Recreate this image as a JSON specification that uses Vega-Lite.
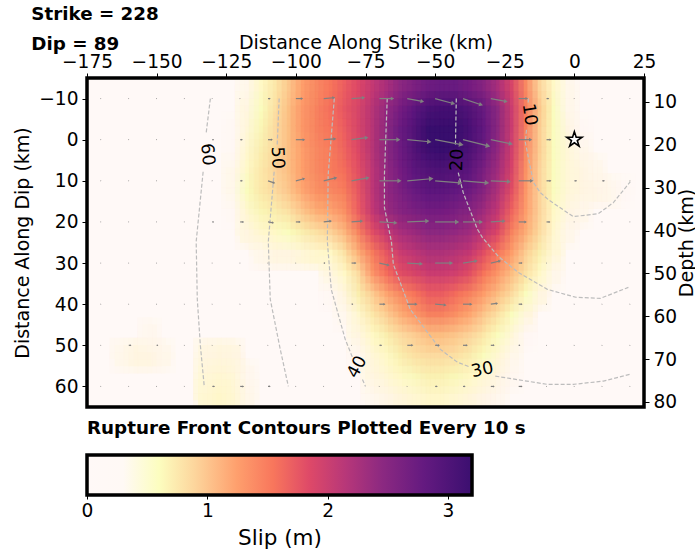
{"$schema":"https://vega.github.io/schema/vega-lite/v6.json","padding":{"left":13,"top":5,"right":0,"bottom":0},"spacing":15,"background":"white","config":{"font":"DejaVu Sans","view":{"stroke":null},"axis":{"grid":false,"domain":false,"tickColor":"#000","tickSize":5,"tickWidth":1,"labelColor":"#000","titleColor":"#000","labelFontSize":18.6,"titleFontSize":19,"titleFontWeight":"normal","labelOverlap":false,"labelFlush":false}},"datasets":{"cells":[
{"x":-117.5,"d":-12.5,"s":0.35},{"x":-112.5,"d":-12.5,"s":0.55},{"x":-107.5,"d":-12.5,"s":0.75},{"x":-102.5,"d":-12.5,"s":1.0},{"x":-97.5,"d":-12.5,"s":1.25},{"x":-92.5,"d":-12.5,"s":1.4},{"x":-87.5,"d":-12.5,"s":1.55},{"x":-82.5,"d":-12.5,"s":1.7},{"x":-77.5,"d":-12.5,"s":1.85},{"x":-72.5,"d":-12.5,"s":2.05},{"x":-67.5,"d":-12.5,"s":2.25},{"x":-62.5,"d":-12.5,"s":2.45},{"x":-57.5,"d":-12.5,"s":2.6},{"x":-52.5,"d":-12.5,"s":2.7},{"x":-47.5,"d":-12.5,"s":2.75},{"x":-42.5,"d":-12.5,"s":2.75},{"x":-37.5,"d":-12.5,"s":2.65},{"x":-32.5,"d":-12.5,"s":2.5},{"x":-27.5,"d":-12.5,"s":2.25},{"x":-22.5,"d":-12.5,"s":1.9},{"x":-17.5,"d":-12.5,"s":1.4},{"x":-12.5,"d":-12.5,"s":0.9},{"x":-7.5,"d":-12.5,"s":0.55},{"x":-2.5,"d":-12.5,"s":0.35},
{"x":-117.5,"d":-7.5,"s":0.4},{"x":-112.5,"d":-7.5,"s":0.6},{"x":-107.5,"d":-7.5,"s":0.8},{"x":-102.5,"d":-7.5,"s":1.05},{"x":-97.5,"d":-7.5,"s":1.3},{"x":-92.5,"d":-7.5,"s":1.45},{"x":-87.5,"d":-7.5,"s":1.6},{"x":-82.5,"d":-7.5,"s":1.75},{"x":-77.5,"d":-7.5,"s":1.9},{"x":-72.5,"d":-7.5,"s":2.15},{"x":-67.5,"d":-7.5,"s":2.4},{"x":-62.5,"d":-7.5,"s":2.65},{"x":-57.5,"d":-7.5,"s":2.85},{"x":-52.5,"d":-7.5,"s":3.05},{"x":-47.5,"d":-7.5,"s":3.1},{"x":-42.5,"d":-7.5,"s":3.1},{"x":-37.5,"d":-7.5,"s":2.95},{"x":-32.5,"d":-7.5,"s":2.75},{"x":-27.5,"d":-7.5,"s":2.45},{"x":-22.5,"d":-7.5,"s":2.0},{"x":-17.5,"d":-7.5,"s":1.5},{"x":-12.5,"d":-7.5,"s":1.0},{"x":-7.5,"d":-7.5,"s":0.6},{"x":-2.5,"d":-7.5,"s":0.35},
{"x":-122.5,"d":-2.5,"s":0.3},{"x":-117.5,"d":-2.5,"s":0.45},{"x":-112.5,"d":-2.5,"s":0.65},{"x":-107.5,"d":-2.5,"s":0.85},{"x":-102.5,"d":-2.5,"s":1.05},{"x":-97.5,"d":-2.5,"s":1.3},{"x":-92.5,"d":-2.5,"s":1.45},{"x":-87.5,"d":-2.5,"s":1.55},{"x":-82.5,"d":-2.5,"s":1.7},{"x":-77.5,"d":-2.5,"s":1.9},{"x":-72.5,"d":-2.5,"s":2.15},{"x":-67.5,"d":-2.5,"s":2.45},{"x":-62.5,"d":-2.5,"s":2.75},{"x":-57.5,"d":-2.5,"s":2.95},{"x":-52.5,"d":-2.5,"s":3.2},{"x":-47.5,"d":-2.5,"s":3.2},{"x":-42.5,"d":-2.5,"s":3.2},{"x":-37.5,"d":-2.5,"s":3.05},{"x":-32.5,"d":-2.5,"s":2.8},{"x":-27.5,"d":-2.5,"s":2.45},{"x":-22.5,"d":-2.5,"s":2.0},{"x":-17.5,"d":-2.5,"s":1.45},{"x":-12.5,"d":-2.5,"s":0.95},{"x":-7.5,"d":-2.5,"s":0.6},{"x":-2.5,"d":-2.5,"s":0.4},{"x":2.5,"d":-2.5,"s":0.3},
{"x":-122.5,"d":2.5,"s":0.3},{"x":-117.5,"d":2.5,"s":0.5},{"x":-112.5,"d":2.5,"s":0.7},{"x":-107.5,"d":2.5,"s":0.85},{"x":-102.5,"d":2.5,"s":1.05},{"x":-97.5,"d":2.5,"s":1.25},{"x":-92.5,"d":2.5,"s":1.4},{"x":-87.5,"d":2.5,"s":1.5},{"x":-82.5,"d":2.5,"s":1.65},{"x":-77.5,"d":2.5,"s":1.85},{"x":-72.5,"d":2.5,"s":2.15},{"x":-67.5,"d":2.5,"s":2.45},{"x":-62.5,"d":2.5,"s":2.7},{"x":-57.5,"d":2.5,"s":2.95},{"x":-52.5,"d":2.5,"s":3.15},{"x":-47.5,"d":2.5,"s":3.2},{"x":-42.5,"d":2.5,"s":3.15},{"x":-37.5,"d":2.5,"s":3.0},{"x":-32.5,"d":2.5,"s":2.75},{"x":-27.5,"d":2.5,"s":2.4},{"x":-22.5,"d":2.5,"s":1.95},{"x":-17.5,"d":2.5,"s":1.4},{"x":-12.5,"d":2.5,"s":0.95},{"x":-7.5,"d":2.5,"s":0.6},{"x":-2.5,"d":2.5,"s":0.45},{"x":2.5,"d":2.5,"s":0.35},
{"x":-122.5,"d":7.5,"s":0.35},{"x":-117.5,"d":7.5,"s":0.55},{"x":-112.5,"d":7.5,"s":0.75},{"x":-107.5,"d":7.5,"s":0.9},{"x":-102.5,"d":7.5,"s":1.05},{"x":-97.5,"d":7.5,"s":1.25},{"x":-92.5,"d":7.5,"s":1.4},{"x":-87.5,"d":7.5,"s":1.5},{"x":-82.5,"d":7.5,"s":1.6},{"x":-77.5,"d":7.5,"s":1.8},{"x":-72.5,"d":7.5,"s":2.1},{"x":-67.5,"d":7.5,"s":2.4},{"x":-62.5,"d":7.5,"s":2.65},{"x":-57.5,"d":7.5,"s":2.85},{"x":-52.5,"d":7.5,"s":2.95},{"x":-47.5,"d":7.5,"s":3.0},{"x":-42.5,"d":7.5,"s":2.95},{"x":-37.5,"d":7.5,"s":2.85},{"x":-32.5,"d":7.5,"s":2.6},{"x":-27.5,"d":7.5,"s":2.3},{"x":-22.5,"d":7.5,"s":1.9},{"x":-17.5,"d":7.5,"s":1.35},{"x":-12.5,"d":7.5,"s":0.9},{"x":-7.5,"d":7.5,"s":0.6},{"x":-2.5,"d":7.5,"s":0.45},{"x":2.5,"d":7.5,"s":0.4},{"x":7.5,"d":7.5,"s":0.35},
{"x":-122.5,"d":12.5,"s":0.35},{"x":-117.5,"d":12.5,"s":0.6},{"x":-112.5,"d":12.5,"s":0.75},{"x":-107.5,"d":12.5,"s":0.85},{"x":-102.5,"d":12.5,"s":1.0},{"x":-97.5,"d":12.5,"s":1.2},{"x":-92.5,"d":12.5,"s":1.35},{"x":-87.5,"d":12.5,"s":1.4},{"x":-82.5,"d":12.5,"s":1.5},{"x":-77.5,"d":12.5,"s":1.75},{"x":-72.5,"d":12.5,"s":2.1},{"x":-67.5,"d":12.5,"s":2.4},{"x":-62.5,"d":12.5,"s":2.6},{"x":-57.5,"d":12.5,"s":2.75},{"x":-52.5,"d":12.5,"s":2.85},{"x":-47.5,"d":12.5,"s":2.85},{"x":-42.5,"d":12.5,"s":2.8},{"x":-37.5,"d":12.5,"s":2.7},{"x":-32.5,"d":12.5,"s":2.5},{"x":-27.5,"d":12.5,"s":2.2},{"x":-22.5,"d":12.5,"s":1.8},{"x":-17.5,"d":12.5,"s":1.3},{"x":-12.5,"d":12.5,"s":0.9},{"x":-7.5,"d":12.5,"s":0.6},{"x":-2.5,"d":12.5,"s":0.45},{"x":2.5,"d":12.5,"s":0.4},{"x":7.5,"d":12.5,"s":0.38},{"x":12.5,"d":12.5,"s":0.35},{"x":17.5,"d":12.5,"s":0.3},
{"x":-122.5,"d":17.5,"s":0.3},{"x":-117.5,"d":17.5,"s":0.5},{"x":-112.5,"d":17.5,"s":0.65},{"x":-107.5,"d":17.5,"s":0.7},{"x":-102.5,"d":17.5,"s":0.8},{"x":-97.5,"d":17.5,"s":1.0},{"x":-92.5,"d":17.5,"s":1.15},{"x":-87.5,"d":17.5,"s":1.2},{"x":-82.5,"d":17.5,"s":1.35},{"x":-77.5,"d":17.5,"s":1.7},{"x":-72.5,"d":17.5,"s":2.05},{"x":-67.5,"d":17.5,"s":2.35},{"x":-62.5,"d":17.5,"s":2.5},{"x":-57.5,"d":17.5,"s":2.6},{"x":-52.5,"d":17.5,"s":2.65},{"x":-47.5,"d":17.5,"s":2.65},{"x":-42.5,"d":17.5,"s":2.6},{"x":-37.5,"d":17.5,"s":2.5},{"x":-32.5,"d":17.5,"s":2.3},{"x":-27.5,"d":17.5,"s":2.05},{"x":-22.5,"d":17.5,"s":1.65},{"x":-17.5,"d":17.5,"s":1.25},{"x":-12.5,"d":17.5,"s":0.9},{"x":-7.5,"d":17.5,"s":0.55},{"x":-2.5,"d":17.5,"s":0.4},{"x":2.5,"d":17.5,"s":0.35},
{"x":-117.5,"d":22.5,"s":0.4},{"x":-112.5,"d":22.5,"s":0.5},{"x":-107.5,"d":22.5,"s":0.55},{"x":-102.5,"d":22.5,"s":0.6},{"x":-97.5,"d":22.5,"s":0.7},{"x":-92.5,"d":22.5,"s":0.8},{"x":-87.5,"d":22.5,"s":0.9},{"x":-82.5,"d":22.5,"s":1.1},{"x":-77.5,"d":22.5,"s":1.45},{"x":-72.5,"d":22.5,"s":1.8},{"x":-67.5,"d":22.5,"s":2.05},{"x":-62.5,"d":22.5,"s":2.25},{"x":-57.5,"d":22.5,"s":2.35},{"x":-52.5,"d":22.5,"s":2.45},{"x":-47.5,"d":22.5,"s":2.45},{"x":-42.5,"d":22.5,"s":2.4},{"x":-37.5,"d":22.5,"s":2.3},{"x":-32.5,"d":22.5,"s":2.1},{"x":-27.5,"d":22.5,"s":1.85},{"x":-22.5,"d":22.5,"s":1.45},{"x":-17.5,"d":22.5,"s":1.15},{"x":-12.5,"d":22.5,"s":0.85},{"x":-7.5,"d":22.5,"s":0.5},{"x":-2.5,"d":22.5,"s":0.35},
{"x":-112.5,"d":27.5,"s":0.35},{"x":-107.5,"d":27.5,"s":0.4},{"x":-102.5,"d":27.5,"s":0.4},{"x":-97.5,"d":27.5,"s":0.45},{"x":-92.5,"d":27.5,"s":0.5},{"x":-87.5,"d":27.5,"s":0.55},{"x":-82.5,"d":27.5,"s":0.8},{"x":-77.5,"d":27.5,"s":1.15},{"x":-72.5,"d":27.5,"s":1.5},{"x":-67.5,"d":27.5,"s":1.75},{"x":-62.5,"d":27.5,"s":2.0},{"x":-57.5,"d":27.5,"s":2.1},{"x":-52.5,"d":27.5,"s":2.2},{"x":-47.5,"d":27.5,"s":2.2},{"x":-42.5,"d":27.5,"s":2.15},{"x":-37.5,"d":27.5,"s":2.05},{"x":-32.5,"d":27.5,"s":1.8},{"x":-27.5,"d":27.5,"s":1.55},{"x":-22.5,"d":27.5,"s":1.25},{"x":-17.5,"d":27.5,"s":0.95},{"x":-12.5,"d":27.5,"s":0.7},{"x":-7.5,"d":27.5,"s":0.45},
{"x":-87.5,"d":32.5,"s":0.4},{"x":-82.5,"d":32.5,"s":0.55},{"x":-77.5,"d":32.5,"s":0.85},{"x":-72.5,"d":32.5,"s":1.3},{"x":-67.5,"d":32.5,"s":1.6},{"x":-62.5,"d":32.5,"s":1.8},{"x":-57.5,"d":32.5,"s":1.9},{"x":-52.5,"d":32.5,"s":2.0},{"x":-47.5,"d":32.5,"s":2.0},{"x":-42.5,"d":32.5,"s":1.95},{"x":-37.5,"d":32.5,"s":1.8},{"x":-32.5,"d":32.5,"s":1.55},{"x":-27.5,"d":32.5,"s":1.3},{"x":-22.5,"d":32.5,"s":1.05},{"x":-17.5,"d":32.5,"s":0.8},{"x":-12.5,"d":32.5,"s":0.55},{"x":-7.5,"d":32.5,"s":0.35},
{"x":-87.5,"d":37.5,"s":0.3},{"x":-82.5,"d":37.5,"s":0.42},{"x":-77.5,"d":37.5,"s":0.7},{"x":-72.5,"d":37.5,"s":0.95},{"x":-67.5,"d":37.5,"s":1.2},{"x":-62.5,"d":37.5,"s":1.4},{"x":-57.5,"d":37.5,"s":1.55},{"x":-52.5,"d":37.5,"s":1.7},{"x":-47.5,"d":37.5,"s":1.7},{"x":-42.5,"d":37.5,"s":1.6},{"x":-37.5,"d":37.5,"s":1.45},{"x":-32.5,"d":37.5,"s":1.25},{"x":-27.5,"d":37.5,"s":1.05},{"x":-22.5,"d":37.5,"s":0.85},{"x":-17.5,"d":37.5,"s":0.6},{"x":-12.5,"d":37.5,"s":0.4},
{"x":-82.5,"d":42.5,"s":0.33},{"x":-77.5,"d":42.5,"s":0.5},{"x":-72.5,"d":42.5,"s":0.75},{"x":-67.5,"d":42.5,"s":0.95},{"x":-62.5,"d":42.5,"s":1.15},{"x":-57.5,"d":42.5,"s":1.3},{"x":-52.5,"d":42.5,"s":1.45},{"x":-47.5,"d":42.5,"s":1.45},{"x":-42.5,"d":42.5,"s":1.35},{"x":-37.5,"d":42.5,"s":1.2},{"x":-32.5,"d":42.5,"s":1.0},{"x":-27.5,"d":42.5,"s":0.8},{"x":-22.5,"d":42.5,"s":0.6},{"x":-17.5,"d":42.5,"s":0.42},
{"x":-77.5,"d":47.5,"s":0.4},{"x":-72.5,"d":47.5,"s":0.55},{"x":-67.5,"d":47.5,"s":0.7},{"x":-62.5,"d":47.5,"s":0.85},{"x":-57.5,"d":47.5,"s":0.95},{"x":-52.5,"d":47.5,"s":1.05},{"x":-47.5,"d":47.5,"s":1.05},{"x":-42.5,"d":47.5,"s":1.0},{"x":-37.5,"d":47.5,"s":0.9},{"x":-32.5,"d":47.5,"s":0.75},{"x":-27.5,"d":47.5,"s":0.6},{"x":-22.5,"d":47.5,"s":0.45},{"x":-17.5,"d":47.5,"s":0.3},{"x":-152.5,"d":47.5,"s":0.33},
{"x":-77.5,"d":52.5,"s":0.32},{"x":-72.5,"d":52.5,"s":0.45},{"x":-67.5,"d":52.5,"s":0.55},{"x":-62.5,"d":52.5,"s":0.7},{"x":-57.5,"d":52.5,"s":0.8},{"x":-52.5,"d":52.5,"s":0.85},{"x":-47.5,"d":52.5,"s":0.85},{"x":-42.5,"d":52.5,"s":0.8},{"x":-37.5,"d":52.5,"s":0.72},{"x":-32.5,"d":52.5,"s":0.6},{"x":-27.5,"d":52.5,"s":0.48},{"x":-22.5,"d":52.5,"s":0.35},{"x":-162.5,"d":52.5,"s":0.35},{"x":-157.5,"d":52.5,"s":0.4},{"x":-152.5,"d":52.5,"s":0.4},{"x":-147.5,"d":52.5,"s":0.35},{"x":-132.5,"d":52.5,"s":0.4},{"x":-127.5,"d":52.5,"s":0.42},{"x":-122.5,"d":52.5,"s":0.4},
{"x":-72.5,"d":57.5,"s":0.4},{"x":-67.5,"d":57.5,"s":0.47},{"x":-62.5,"d":57.5,"s":0.55},{"x":-57.5,"d":57.5,"s":0.62},{"x":-52.5,"d":57.5,"s":0.68},{"x":-47.5,"d":57.5,"s":0.68},{"x":-42.5,"d":57.5,"s":0.63},{"x":-37.5,"d":57.5,"s":0.57},{"x":-32.5,"d":57.5,"s":0.48},{"x":-27.5,"d":57.5,"s":0.4},{"x":-22.5,"d":57.5,"s":0.32},{"x":-132.5,"d":57.5,"s":0.45},{"x":-127.5,"d":57.5,"s":0.48},{"x":-122.5,"d":57.5,"s":0.45},{"x":-117.5,"d":57.5,"s":0.33},
{"x":-72.5,"d":62.5,"s":0.33},{"x":-67.5,"d":62.5,"s":0.38},{"x":-62.5,"d":62.5,"s":0.43},{"x":-57.5,"d":62.5,"s":0.48},{"x":-52.5,"d":62.5,"s":0.52},{"x":-47.5,"d":62.5,"s":0.52},{"x":-42.5,"d":62.5,"s":0.48},{"x":-37.5,"d":62.5,"s":0.43},{"x":-32.5,"d":62.5,"s":0.38},{"x":-27.5,"d":62.5,"s":0.33},{"x":-132.5,"d":62.5,"s":0.48},{"x":-127.5,"d":62.5,"s":0.52},{"x":-122.5,"d":62.5,"s":0.48},{"x":-117.5,"d":62.5,"s":0.36}
],"fronts":[
{"c":"60a","i":1,"x":-130.7,"d":-10},{"c":"60a","i":2,"x":-132.2,"d":-1.7},{"c":"60b","i":3,"x":-133.3,"d":7.8},{"c":"60b","i":4,"x":-135.8,"d":24.8},{"c":"60b","i":5,"x":-135.4,"d":38.8},{"c":"60b","i":6,"x":-134.3,"d":50},{"c":"60b","i":7,"x":-132.9,"d":60},
{"c":"50a","i":1,"x":-106,"d":-10},{"c":"50a","i":2,"x":-106.7,"d":1.2},{"c":"50b","i":3,"x":-107.8,"d":7.8},{"c":"50b","i":4,"x":-109.9,"d":24.8},{"c":"50b","i":5,"x":-109.2,"d":38.8},{"c":"50b","i":6,"x":-105.6,"d":51},{"c":"50b","i":7,"x":-102.7,"d":60},
{"c":"40a","i":1,"x":-86.2,"d":-10},{"c":"40a","i":2,"x":-88.4,"d":8.5},{"c":"40a","i":3,"x":-88.7,"d":24.8},{"c":"40a","i":4,"x":-87.3,"d":36.4},{"c":"40a","i":5,"x":-82.3,"d":48.5},{"c":"40a","i":6,"x":-79.7,"d":52.9},{"c":"40b","i":7,"x":-76.1,"d":58.3},{"c":"40b","i":8,"x":-75,"d":60},
{"c":"30a","i":1,"x":-67.2,"d":-10},{"c":"30a","i":2,"x":-68.2,"d":8.5},{"c":"30a","i":3,"x":-68.2,"d":16.5},{"c":"30a","i":4,"x":-65.7,"d":24.8},{"c":"30a","i":5,"x":-65,"d":30.3},{"c":"30a","i":6,"x":-58.9,"d":41.3},{"c":"30a","i":7,"x":-48.1,"d":51},{"c":"30a","i":8,"x":-42,"d":54.1},{"c":"30a","i":9,"x":-37.4,"d":55.3},{"c":"30b","i":10,"x":-28.4,"d":57.5},{"c":"30b","i":11,"x":-9.7,"d":59.5},{"c":"30b","i":12,"x":-0.4,"d":59.5},{"c":"30b","i":13,"x":10.4,"d":58.7},{"c":"30b","i":14,"x":20.1,"d":57},
{"c":"20a","i":1,"x":-42.4,"d":-10},{"c":"20a","i":2,"x":-42.7,"d":1.2},{"c":"20b","i":3,"x":-41.7,"d":8},{"c":"20b","i":4,"x":-39.9,"d":12.9},{"c":"20b","i":5,"x":-34.8,"d":21.8},{"c":"20b","i":6,"x":-33,"d":23.8},{"c":"20b","i":7,"x":-27.3,"d":28.4},{"c":"20b","i":8,"x":-20.1,"d":32.3},{"c":"20b","i":9,"x":-9.7,"d":36.4},{"c":"20b","i":10,"x":0.4,"d":38.3},{"c":"20b","i":11,"x":9.3,"d":38.6},{"c":"20b","i":12,"x":19.4,"d":35.9},
{"c":"10a","i":1,"x":-16.5,"d":-10},{"c":"10a","i":2,"x":-16.6,"d":-8.9},{"c":"10b","i":3,"x":-17.2,"d":-2.4},{"c":"10b","i":4,"x":-17.6,"d":0.7},{"c":"10b","i":5,"x":-14.7,"d":10.4},{"c":"10b","i":6,"x":-12.2,"d":12.9},{"c":"10b","i":7,"x":-9.3,"d":14.6},{"c":"10b","i":8,"x":-0.4,"d":18.7},{"c":"10b","i":9,"x":8.6,"d":18},{"c":"10b","i":10,"x":14,"d":15.3},{"c":"10b","i":11,"x":20.1,"d":10.2}
],"arrows":[
{"x":-170,"d":-10,"ex":-170,"ed":-10,"m":0.5,"a":90},{"x":-160,"d":-10,"ex":-160,"ed":-10,"m":0.5,"a":90},{"x":-150,"d":-10,"ex":-150,"ed":-10,"m":0.5,"a":90},{"x":-140,"d":-10,"ex":-140,"ed":-10,"m":0.5,"a":90},{"x":-130,"d":-10,"ex":-130,"ed":-10,"m":0.5,"a":90},{"x":-120,"d":-10,"ex":-120,"ed":-10,"m":0.5,"a":90},{"x":-110,"d":-10,"ex":-109.3,"ed":-10,"m":2,"a":90},{"x":-100,"d":-10,"ex":-97.8,"ed":-10,"m":6,"a":90},{"x":-90,"d":-10,"ex":-86.4,"ed":-10.2,"m":10,"a":84},{"x":-80,"d":-10,"ex":-75.7,"ed":-10.2,"m":12,"a":85},{"x":-70,"d":-10,"ex":-65.3,"ed":-10,"m":13,"a":90},{"x":-60,"d":-10,"ex":-54.6,"ed":-9.3,"m":15.3,"a":101},{"x":-50,"d":-10,"ex":-43.5,"ed":-8.8,"m":18.7,"a":105},{"x":-40,"d":-10,"ex":-33.5,"ed":-8.5,"m":19,"a":108},{"x":-30,"d":-10,"ex":-24.6,"ed":-9.3,"m":15.3,"a":101},{"x":-20,"d":-10,"ex":-17.1,"ed":-10,"m":8,"a":90},{"x":-10,"d":-10,"ex":-9.3,"ed":-10,"m":2,"a":90},{"x":0,"d":-10,"ex":0,"ed":-10,"m":0.5,"a":90},{"x":10,"d":-10,"ex":10,"ed":-10,"m":0.5,"a":90},{"x":20,"d":-10,"ex":20,"ed":-10,"m":0.5,"a":90},
{"x":-170,"d":0,"ex":-170,"ed":0,"m":0.5,"a":90},{"x":-160,"d":0,"ex":-160,"ed":0,"m":0.5,"a":90},{"x":-150,"d":0,"ex":-150,"ed":0,"m":0.5,"a":90},{"x":-140,"d":0,"ex":-140,"ed":0,"m":0.5,"a":90},{"x":-130,"d":0,"ex":-129.6,"ed":0,"m":1,"a":90},{"x":-120,"d":0,"ex":-119.3,"ed":0,"m":2,"a":90},{"x":-110,"d":0,"ex":-108.6,"ed":0,"m":4,"a":100},{"x":-100,"d":0,"ex":-97.1,"ed":0,"m":8,"a":90},{"x":-90,"d":0,"ex":-86,"ed":-0.2,"m":11,"a":85},{"x":-80,"d":0,"ex":-74.6,"ed":-0.5,"m":15,"a":82},{"x":-70,"d":0,"ex":-63.2,"ed":0,"m":19,"a":90},{"x":-60,"d":0,"ex":-52.1,"ed":0.5,"m":22,"a":95},{"x":-50,"d":0,"ex":-40.6,"ed":1.2,"m":26.5,"a":101},{"x":-40,"d":0,"ex":-31,"ed":1.5,"m":25.7,"a":103},{"x":-30,"d":0,"ex":-22.8,"ed":1,"m":20.4,"a":101},{"x":-20,"d":0,"ex":-15.7,"ed":0,"m":12,"a":90},{"x":-10,"d":0,"ex":-8.6,"ed":0,"m":4,"a":90},{"x":0,"d":0,"ex":0,"ed":0,"m":0.5,"a":90},{"x":10,"d":0,"ex":10,"ed":0,"m":0.5,"a":90},{"x":20,"d":0,"ex":20,"ed":0,"m":0.5,"a":90},
{"x":-170,"d":10,"ex":-170,"ed":10,"m":0.5,"a":90},{"x":-160,"d":10,"ex":-160,"ed":10,"m":0.5,"a":90},{"x":-150,"d":10,"ex":-150,"ed":10,"m":0.5,"a":90},{"x":-140,"d":10,"ex":-140,"ed":10,"m":0.5,"a":90},{"x":-130,"d":10,"ex":-130,"ed":10,"m":0.5,"a":90},{"x":-120,"d":10,"ex":-119.3,"ed":10,"m":2,"a":100},{"x":-110,"d":10,"ex":-107.8,"ed":10.5,"m":6.3,"a":108},{"x":-100,"d":10,"ex":-97.1,"ed":9.5,"m":8.2,"a":76},{"x":-90,"d":10,"ex":-85.7,"ed":9.3,"m":12.4,"a":76},{"x":-80,"d":10,"ex":-74.2,"ed":9.3,"m":16.3,"a":79},{"x":-70,"d":10,"ex":-62.8,"ed":10,"m":20,"a":90},{"x":-60,"d":10,"ex":-51.4,"ed":9.5,"m":24,"a":85},{"x":-50,"d":10,"ex":-41,"ed":10.5,"m":25,"a":95},{"x":-40,"d":10,"ex":-31.4,"ed":10.5,"m":24,"a":95},{"x":-30,"d":10,"ex":-23.5,"ed":10.2,"m":18,"a":93},{"x":-20,"d":10,"ex":-15.3,"ed":10,"m":13,"a":90},{"x":-10,"d":10,"ex":-8.6,"ed":10,"m":4,"a":90},{"x":0,"d":10,"ex":0.7,"ed":10,"m":2,"a":90},{"x":10,"d":10,"ex":10.7,"ed":10,"m":2,"a":90},{"x":20,"d":10,"ex":20,"ed":10,"m":0.5,"a":90},
{"x":-170,"d":20,"ex":-170,"ed":20,"m":0.5,"a":90},{"x":-160,"d":20,"ex":-160,"ed":20,"m":0.5,"a":90},{"x":-150,"d":20,"ex":-150,"ed":20,"m":0.5,"a":90},{"x":-140,"d":20,"ex":-140,"ed":20,"m":0.5,"a":90},{"x":-130,"d":20,"ex":-129.6,"ed":20,"m":1,"a":90},{"x":-120,"d":20,"ex":-118.9,"ed":20,"m":3,"a":90},{"x":-110,"d":20,"ex":-108.2,"ed":20.2,"m":5,"a":101},{"x":-100,"d":20,"ex":-98.6,"ed":20,"m":4,"a":90},{"x":-90,"d":20,"ex":-87.5,"ed":19.8,"m":7,"a":82},{"x":-80,"d":20,"ex":-76.4,"ed":19.8,"m":10,"a":84},{"x":-70,"d":20,"ex":-64.2,"ed":20.2,"m":16,"a":94},{"x":-60,"d":20,"ex":-52.8,"ed":19.8,"m":20,"a":87},{"x":-50,"d":20,"ex":-42.1,"ed":20,"m":22,"a":90},{"x":-40,"d":20,"ex":-33.5,"ed":20,"m":18,"a":90},{"x":-30,"d":20,"ex":-25.3,"ed":19.8,"m":13,"a":86},{"x":-20,"d":20,"ex":-17.5,"ed":20,"m":7,"a":90},{"x":-10,"d":20,"ex":-8.9,"ed":20,"m":3,"a":90},{"x":0,"d":20,"ex":0,"ed":20,"m":0.5,"a":90},{"x":10,"d":20,"ex":10,"ed":20,"m":0.5,"a":90},{"x":20,"d":20,"ex":20,"ed":20,"m":0.5,"a":90},
{"x":-170,"d":30,"ex":-170,"ed":30,"m":0.5,"a":90},{"x":-160,"d":30,"ex":-160,"ed":30,"m":0.5,"a":90},{"x":-150,"d":30,"ex":-150,"ed":30,"m":0.5,"a":90},{"x":-140,"d":30,"ex":-140,"ed":30,"m":0.5,"a":90},{"x":-130,"d":30,"ex":-130,"ed":30,"m":0.5,"a":90},{"x":-120,"d":30,"ex":-120,"ed":30,"m":0.5,"a":90},{"x":-110,"d":30,"ex":-110,"ed":30,"m":0.5,"a":90},{"x":-100,"d":30,"ex":-100,"ed":30,"m":0.5,"a":90},{"x":-90,"d":30,"ex":-89.6,"ed":30,"m":1,"a":90},{"x":-80,"d":30,"ex":-78.6,"ed":30,"m":4,"a":90},{"x":-70,"d":30,"ex":-66.8,"ed":30.5,"m":9,"a":103},{"x":-60,"d":30,"ex":-55,"ed":30.2,"m":14,"a":94},{"x":-50,"d":30,"ex":-44.2,"ed":30,"m":16,"a":90},{"x":-40,"d":30,"ex":-35.3,"ed":29.5,"m":13,"a":81},{"x":-30,"d":30,"ex":-26.8,"ed":29.5,"m":9,"a":77},{"x":-20,"d":30,"ex":-18.9,"ed":30,"m":3,"a":90},{"x":-10,"d":30,"ex":-10,"ed":30,"m":0.5,"a":90},{"x":0,"d":30,"ex":0,"ed":30,"m":0.5,"a":90},{"x":10,"d":30,"ex":10,"ed":30,"m":0.5,"a":90},{"x":20,"d":30,"ex":20,"ed":30,"m":0.5,"a":90},
{"x":-170,"d":40,"ex":-170,"ed":40,"m":0.5,"a":90},{"x":-160,"d":40,"ex":-160,"ed":40,"m":0.5,"a":90},{"x":-150,"d":40,"ex":-150,"ed":40,"m":0.5,"a":90},{"x":-140,"d":40,"ex":-140,"ed":40,"m":0.5,"a":90},{"x":-130,"d":40,"ex":-130,"ed":40,"m":0.5,"a":90},{"x":-120,"d":40,"ex":-120,"ed":40,"m":0.5,"a":90},{"x":-110,"d":40,"ex":-110,"ed":40,"m":0.5,"a":90},{"x":-100,"d":40,"ex":-100,"ed":40,"m":0.5,"a":90},{"x":-90,"d":40,"ex":-90,"ed":40,"m":0.5,"a":90},{"x":-80,"d":40,"ex":-79.6,"ed":40,"m":1,"a":90},{"x":-70,"d":40,"ex":-68.2,"ed":40,"m":5,"a":90},{"x":-60,"d":40,"ex":-56.8,"ed":40,"m":9,"a":90},{"x":-50,"d":40,"ex":-46.4,"ed":40.2,"m":10,"a":96},{"x":-40,"d":40,"ex":-37.1,"ed":40,"m":8,"a":90},{"x":-30,"d":40,"ex":-27.8,"ed":39.8,"m":6,"a":81},{"x":-20,"d":40,"ex":-18.9,"ed":40,"m":3,"a":90},{"x":-10,"d":40,"ex":-10,"ed":40,"m":0.5,"a":90},{"x":0,"d":40,"ex":0,"ed":40,"m":0.5,"a":90},{"x":10,"d":40,"ex":10,"ed":40,"m":0.5,"a":90},{"x":20,"d":40,"ex":20,"ed":40,"m":0.5,"a":90},
{"x":-170,"d":50,"ex":-170,"ed":50,"m":0.5,"a":90},{"x":-160,"d":50,"ex":-159.3,"ed":50,"m":2,"a":90},{"x":-150,"d":50,"ex":-149.6,"ed":50,"m":1,"a":90},{"x":-140,"d":50,"ex":-140,"ed":50,"m":0.5,"a":90},{"x":-130,"d":50,"ex":-130,"ed":50,"m":0.5,"a":90},{"x":-120,"d":50,"ex":-120,"ed":50,"m":0.5,"a":90},{"x":-110,"d":50,"ex":-110,"ed":50,"m":0.5,"a":90},{"x":-100,"d":50,"ex":-100,"ed":50,"m":0.5,"a":90},{"x":-90,"d":50,"ex":-90,"ed":50,"m":0.5,"a":90},{"x":-80,"d":50,"ex":-80,"ed":50,"m":0.5,"a":90},{"x":-70,"d":50,"ex":-69.3,"ed":50,"m":2,"a":90},{"x":-60,"d":50,"ex":-58.2,"ed":50,"m":5,"a":90},{"x":-50,"d":50,"ex":-48.6,"ed":50,"m":4,"a":90},{"x":-40,"d":50,"ex":-38.6,"ed":50,"m":4,"a":90},{"x":-30,"d":50,"ex":-28.9,"ed":50,"m":3,"a":90},{"x":-20,"d":50,"ex":-19.6,"ed":50,"m":1,"a":90},{"x":-10,"d":50,"ex":-10,"ed":50,"m":0.5,"a":90},{"x":0,"d":50,"ex":0,"ed":50,"m":0.5,"a":90},{"x":10,"d":50,"ex":10,"ed":50,"m":0.5,"a":90},{"x":20,"d":50,"ex":20,"ed":50,"m":0.5,"a":90},
{"x":-170,"d":60,"ex":-170,"ed":60,"m":0.5,"a":90},{"x":-160,"d":60,"ex":-160,"ed":60,"m":0.5,"a":90},{"x":-150,"d":60,"ex":-150,"ed":60,"m":0.5,"a":90},{"x":-140,"d":60,"ex":-140,"ed":60,"m":0.5,"a":90},{"x":-130,"d":60,"ex":-129.3,"ed":60,"m":2,"a":90},{"x":-120,"d":60,"ex":-118.9,"ed":60,"m":3,"a":90},{"x":-110,"d":60,"ex":-109.3,"ed":60,"m":2,"a":90},{"x":-100,"d":60,"ex":-100,"ed":60,"m":0.5,"a":90},{"x":-90,"d":60,"ex":-90,"ed":60,"m":0.5,"a":90},{"x":-80,"d":60,"ex":-80,"ed":60,"m":0.5,"a":90},{"x":-70,"d":60,"ex":-70,"ed":60,"m":0.5,"a":90},{"x":-60,"d":60,"ex":-60,"ed":60,"m":0.5,"a":90},{"x":-50,"d":60,"ex":-49.3,"ed":60,"m":2,"a":90},{"x":-40,"d":60,"ex":-39.3,"ed":60,"m":2,"a":90},{"x":-30,"d":60,"ex":-28.9,"ed":60,"m":3,"a":90},{"x":-20,"d":60,"ex":-18.9,"ed":60,"m":3,"a":90},{"x":-10,"d":60,"ex":-10,"ed":60,"m":0.5,"a":90},{"x":0,"d":60,"ex":0,"ed":60,"m":0.5,"a":90},{"x":10,"d":60,"ex":10,"ed":60,"m":0.5,"a":90},{"x":20,"d":60,"ex":20,"ed":60,"m":0.5,"a":90}
]},"vconcat":[{"width":557,"height":329,"view":{"fill":"#fff9f7","stroke":null},"resolve":{"scale":{"y":"independent"},"axis":{"y":"independent"}},"layer":[{"layer":[
{"data":{"name":"cells"},"encoding":{"x":{"field":"x","type":"quantitative","scale":{"domain":[-175,25],"nice":false,"zero":false},"axis":{"orient":"top","title":"Distance Along Strike (km)","values":[-175,-150,-125,-100,-75,-50,-25,0,25],"titlePadding":0,"labelPadding":2}},"y":{"field":"d","type":"quantitative","scale":{"domain":[-15,65],"reverse":true,"nice":false,"zero":false},"axis":{"title":"Distance Along Dip (km)","values":[-10,0,10,20,30,40,50,60],"titlePadding":6,"labelPadding":4}},"color":{"field":"s","type":"quantitative","legend":null,"scale":{"domain":[0,0.3,0.6,0.9,1.25,1.55,1.85,2.15,2.45,2.8,3.2],"range":["#fff9f7","#fff9f5","#fcfdbf","#fdd59c","#fe9f6d","#f8765c","#de4968","#b73779","#8c2981","#641a80","#3b0f70"]}}},"layer":[
{"mark":{"type":"rect","width":14.6,"height":21.3,"clip":true}},
{"mark":{"type":"rect","width":14.6,"height":21.3,"clip":true,"opacity":0.5,"xOffset":-4.9,"yOffset":-7.1}},
{"mark":{"type":"rect","width":14.6,"height":21.3,"clip":true,"opacity":0.3333,"xOffset":4.9,"yOffset":-7.1}},
{"mark":{"type":"rect","width":14.6,"height":21.3,"clip":true,"opacity":0.25,"xOffset":-4.9,"yOffset":7.1}},
{"mark":{"type":"rect","width":14.6,"height":21.3,"clip":true,"opacity":0.2,"xOffset":4.9,"yOffset":7.1}},
{"mark":{"type":"rect","width":14.6,"height":21.3,"clip":true,"opacity":0.1667,"xOffset":0,"yOffset":-7.1}},
{"mark":{"type":"rect","width":14.6,"height":21.3,"clip":true,"opacity":0.1429,"xOffset":0,"yOffset":7.1}},
{"mark":{"type":"rect","width":14.6,"height":21.3,"clip":true,"opacity":0.125,"xOffset":-4.9,"yOffset":0}},
{"mark":{"type":"rect","width":14.6,"height":21.3,"clip":true,"opacity":0.1111,"xOffset":4.9,"yOffset":0}}
]},
{"data":{"name":"fronts"},"mark":{"type":"line","stroke":"#bdbdbd","strokeWidth":1.2,"strokeDash":[4,2],"clip":true},"encoding":{"x":{"field":"x","type":"quantitative"},"y":{"field":"d","type":"quantitative"},"detail":{"field":"c"},"order":{"field":"i","type":"quantitative"}}},
{"data":{"name":"arrows"},"mark":{"type":"rule","stroke":"#808080","strokeWidth":1.2},"encoding":{"x":{"field":"x","type":"quantitative"},"y":{"field":"d","type":"quantitative"},"x2":{"field":"ex"},"y2":{"field":"ed"}}},
{"data":{"name":"arrows"},"mark":{"type":"point","shape":"triangle-up","filled":true,"color":"#808080","opacity":1},"encoding":{"x":{"field":"ex","type":"quantitative"},"y":{"field":"ed","type":"quantitative"},"size":{"field":"m","type":"quantitative","legend":null,"scale":{"domain":[0,27],"range":[1,30]}},"angle":{"field":"a","type":"quantitative","scale":{"domain":[0,360],"range":[0,360]}}}},
{"data":{"values":[{"x":0,"d":0,"name":"Epicenter"}]},"mark":{"type":"point","shape":"M0,-1L0.2245,-0.309L0.951,-0.309L0.363,0.118L0.588,0.809L0,0.382L-0.588,0.809L-0.363,0.118L-0.951,-0.309L-0.2245,-0.309Z","size":260,"filled":true,"fill":"white","stroke":"black","strokeWidth":1.6,"opacity":1},"encoding":{"x":{"field":"x","type":"quantitative"},"y":{"field":"d","type":"quantitative"}}},
{"data":{"values":[{"x":-131.8,"d":3.6,"t":"60","r":85},{"x":-106.7,"d":4.4,"t":"50","r":88},{"x":-77.9,"d":55.3,"t":"40","r":-62},{"x":-33,"d":56,"t":"30","r":-12},{"x":-42,"d":4.9,"t":"20","r":-88},{"x":-16.2,"d":-6.1,"t":"10","r":82}]},"mark":{"type":"text","fontSize":17.5,"color":"#000","align":"center","baseline":"middle"},"encoding":{"x":{"field":"x","type":"quantitative"},"y":{"field":"d","type":"quantitative"},"text":{"field":"t"},"angle":{"field":"r","type":"quantitative","scale":null}}},
{"data":{"values":[{"x":-195,"d":-30.3,"t":"Strike = 228"},{"x":-195,"d":-23,"t":"Dip = 89"},{"x":-175,"d":70.3,"t":"Rupture Front Contours Plotted Every 10 s"}]},"mark":{"type":"text","fontSize":18.3,"fontWeight":"bold","color":"#000","align":"left","baseline":"middle"},"encoding":{"x":{"field":"x","type":"quantitative"},"y":{"field":"d","type":"quantitative"},"text":{"field":"t"}}},
{"data":{"values":[{"x":-175,"ex":25,"d":-15,"ed":65}]},"mark":{"type":"rect","fill":null,"fillOpacity":0,"stroke":"#000","strokeWidth":3.5},"encoding":{"x":{"field":"x","type":"quantitative"},"x2":{"field":"ex"},"y":{"field":"d","type":"quantitative"},"y2":{"field":"ed"}}}
]},
{"data":{"values":[{"depth":10},{"depth":80}]},"mark":{"type":"point","opacity":0},"encoding":{"y":{"field":"depth","type":"quantitative","scale":{"domain":[4.4,81.2],"reverse":true,"nice":false,"zero":false},"axis":{"orient":"right","title":"Depth (km)","titleAngle":270,"titleBaseline":"top","values":[10,20,30,40,50,60,70,80],"titlePadding":1,"labelPadding":4}}}}
]},
{"width":385,"height":40,"data":{"values":[{"a":0,"b":3.2}]},"mark":{"type":"rect","fill":{"gradient":"linear","x1":0,"y1":0,"x2":1,"y2":0,"stops":[{"offset":0,"color":"#fff9f7"},{"offset":0.094,"color":"#fff9f5"},{"offset":0.1875,"color":"#fcfdbf"},{"offset":0.281,"color":"#fdd59c"},{"offset":0.39,"color":"#fe9f6d"},{"offset":0.484,"color":"#f8765c"},{"offset":0.578,"color":"#de4968"},{"offset":0.672,"color":"#b73779"},{"offset":0.766,"color":"#8c2981"},{"offset":0.875,"color":"#641a80"},{"offset":1,"color":"#3b0f70"}]},"stroke":"#000","strokeWidth":3.5},"encoding":{"x":{"field":"a","type":"quantitative","scale":{"domain":[0,3.2],"nice":false},"axis":{"title":"Slip (m)","values":[0,1,2,3],"format":"d","titleFontSize":21.5,"labelFontSize":18.6,"tickSize":4,"labelPadding":2,"titlePadding":8}},"x2":{"field":"b"}}}
]}
